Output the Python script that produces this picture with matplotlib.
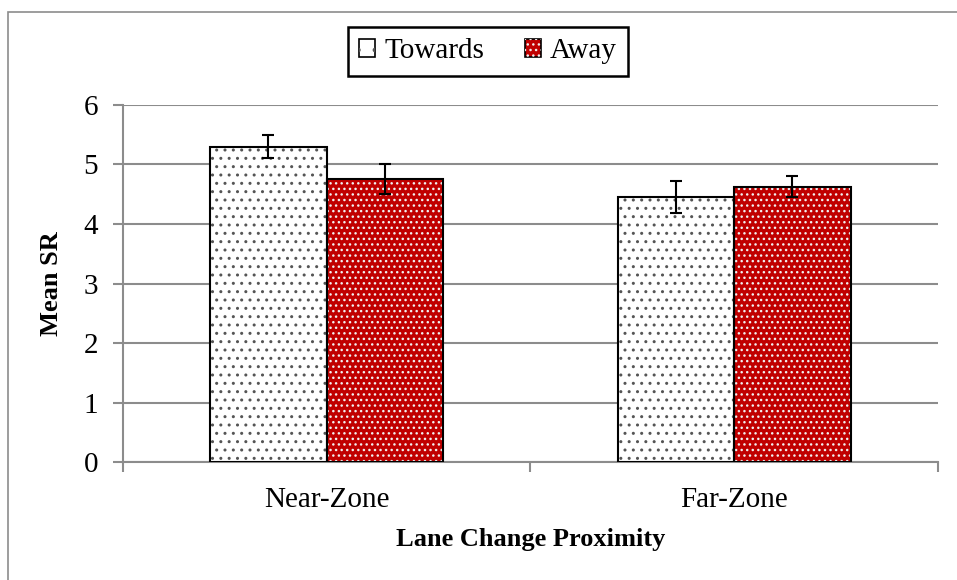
import matplotlib.pyplot as plt
from matplotlib.patches import Patch, Rectangle

# ===================== DATA =====================
categories = ["Near-Zone", "Far-Zone"]
series = ["Towards", "Away"]
towards_mean = [5.30, 4.45]
towards_err = [0.19, 0.27]
away_mean = [4.75, 4.63]
away_err = [0.25, 0.17]
y_ticks = [0, 1, 2, 3, 4, 5, 6]


def main():
    plt.rcParams['font.family'] = ['Liberation Serif', 'DejaVu Serif']
    plt.rcParams['hatch.linewidth'] = 1.0

    fig = plt.figure(figsize=(9.57, 5.8), dpi=100)
    ax = fig.add_axes([0.1285, 0.2034, 0.8515, 0.6156])

    # outer chart border (gray)
    fig.patches.append(Rectangle((8 / 957, -0.1), 1.2, 1.1 - 12 / 580,
                                 transform=fig.transFigure, fill=False,
                                 edgecolor='#8c8c8c', linewidth=1.2))

    width = 0.286
    red = '#C00000'
    dot_grey = '#555555'
    x = list(range(len(categories)))
    x_t = [i - width / 2 for i in x]
    x_a = [i + width / 2 for i in x]

    # ---- Towards: white with sparse dark dots
    ax.bar(x_t, towards_mean, width, color='white', edgecolor='none', zorder=3)
    ax.bar(x_t, towards_mean, width, color='none', edgecolor=dot_grey,
           hatch='..', linewidth=0, zorder=4)
    ax.bar(x_t, towards_mean, width, color='none', edgecolor='black',
           linewidth=1.5, zorder=5)

    # ---- Away: red with dense white dots
    ax.bar(x_a, away_mean, width, color=red, edgecolor='none', zorder=3)
    ax.bar(x_a, away_mean, width, color='none', edgecolor='#f0f0f0',
           hatch='...', linewidth=0, zorder=4)
    ax.bar(x_a, away_mean, width, color='none', edgecolor='black',
           linewidth=1.5, zorder=5)

    # ---- error bars
    ax.errorbar(x_t, towards_mean, yerr=towards_err, fmt='none', ecolor='black',
                elinewidth=1.5, capsize=4.5, capthick=1.5, zorder=6)
    ax.errorbar(x_a, away_mean, yerr=away_err, fmt='none', ecolor='black',
                elinewidth=1.5, capsize=4.5, capthick=1.5, zorder=6)

    # ---- axes styling
    ax.set_xlim(-0.5, 1.5)
    ax.set_ylim(0, 6)
    ax.set_yticks(y_ticks)
    ax.set_xticks(x)
    ax.set_xticklabels(categories)
    ax.set_xticks([-0.5, 0.5, 1.5], minor=True)
    ax.tick_params(axis='x', which='major', length=0, pad=18, labelsize=21)
    ax.tick_params(axis='x', which='minor', length=7, width=1.5,
                   color='#8c8c8c', direction='out')
    ax.tick_params(axis='y', length=7, width=1.5, color='#8c8c8c',
                   direction='out', pad=11, labelsize=21)
    ax.yaxis.grid(True, color='#8c8c8c', linewidth=1.5, zorder=0)
    ax.set_axisbelow(True)
    for side in ['top', 'right']:
        ax.spines[side].set_visible(False)
    for side in ['left', 'bottom']:
        ax.spines[side].set_color('#8c8c8c')
        ax.spines[side].set_linewidth(1.5)

    ax.set_xlabel("Lane Change Proximity", fontsize=19, fontweight='bold',
                  labelpad=11)
    ax.set_ylabel("Mean SR", fontsize=19, fontweight='bold', labelpad=15)

    # ---- legend (fill + hatch overlay + outline)
    h_towards = (Patch(facecolor='white', edgecolor='black', linewidth=1.2),
                 Patch(facecolor='none', edgecolor=dot_grey, hatch='.', linewidth=0))
    h_away = (Patch(facecolor=red, edgecolor='black', linewidth=1.2),
              Patch(facecolor='none', edgecolor='#f0f0f0', hatch='...', linewidth=0))
    leg = fig.legend([h_towards, h_away], series, loc='center',
                     bbox_to_anchor=(488 / 957, 1 - 51.5 / 580), ncol=2,
                     fontsize=21, frameon=True, fancybox=False,
                     edgecolor='black', framealpha=1, handlelength=0.55,
                     handleheight=0.55, handletextpad=0.3, columnspacing=1.4,
                     borderpad=0.38, borderaxespad=0)
    leg.get_frame().set_linewidth(1.8)

    fig.savefig("out.png", dpi=100)


if __name__ == "__main__":
    main()
